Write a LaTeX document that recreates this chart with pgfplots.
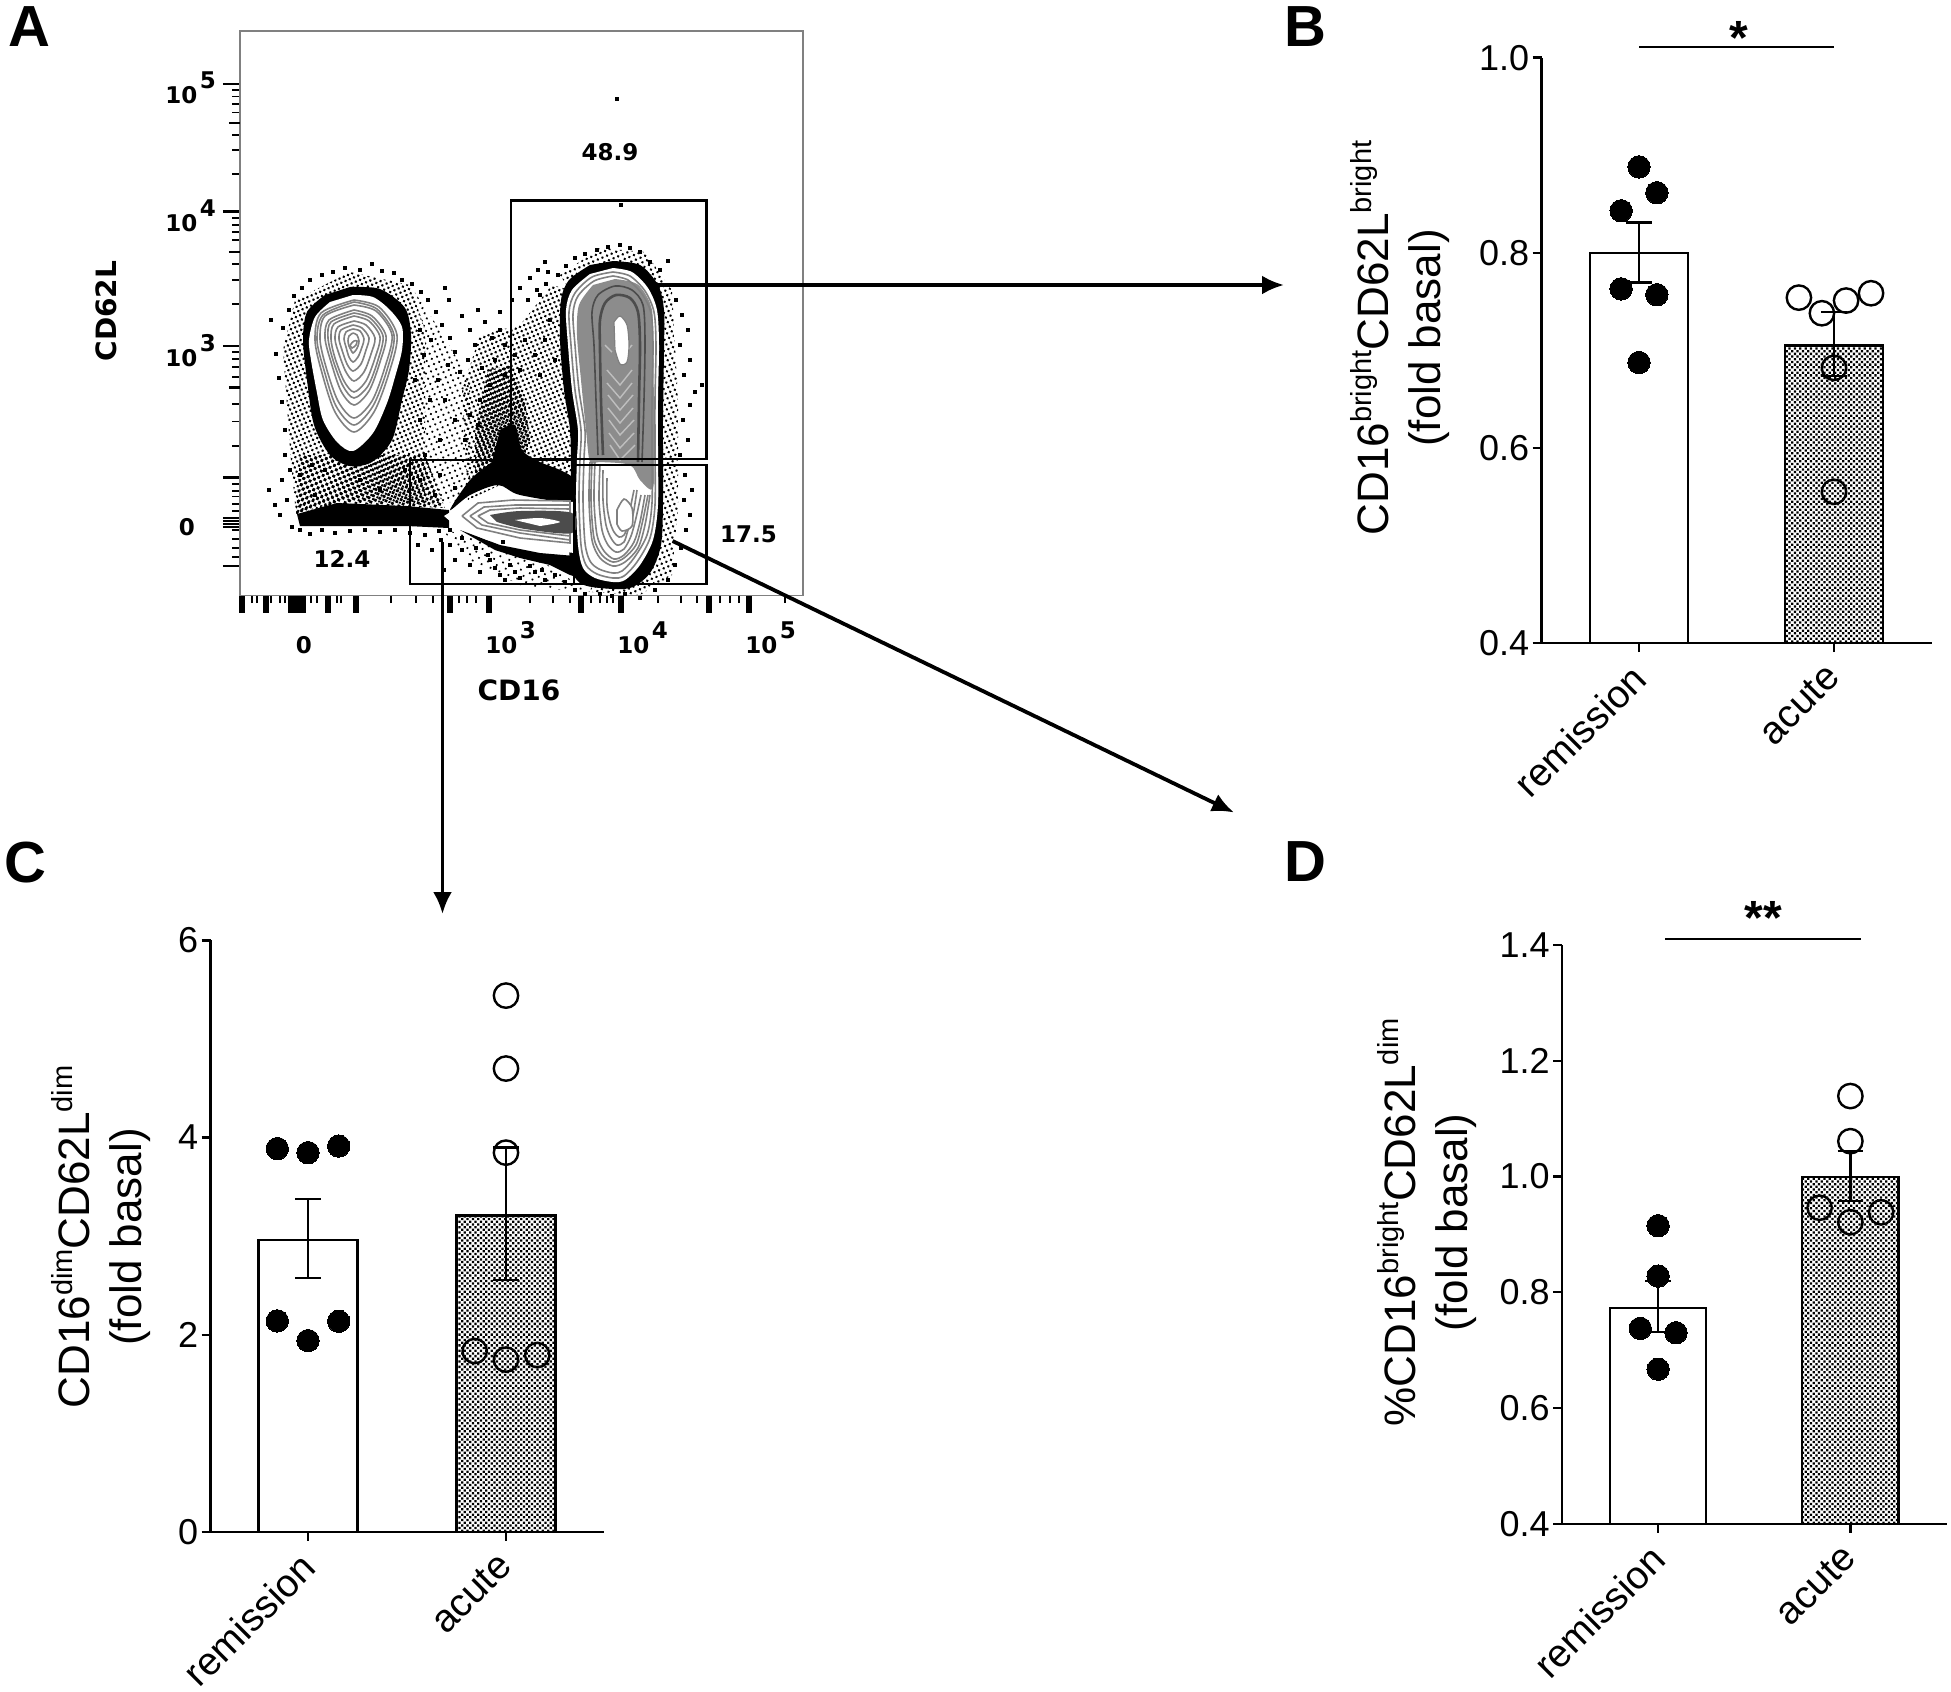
\documentclass[border=0pt]{standalone}
\usepackage{fontspec}
\usepackage{pgfplots}
\pgfplotsset{compat=1.18}
\usetikzlibrary{patterns.meta,arrows.meta}
\setmainfont{Liberation Sans}
\newfontfamily\djb{DejaVu Sans}
\definecolor{cont}{gray}{0.5}
\definecolor{contd}{gray}{0.3}
\definecolor{contf}{gray}{0.55}
\newcommand{\tl}{\fontsize{18}{20}\selectfont}
\newcommand{\txl}{\fontsize{19.5}{21}\selectfont}
\newcommand{\yl}{\fontsize{22}{26}\selectfont}
\newcommand{\sps}[1]{\raisebox{8.5pt}{\fontsize{14.5}{16}\selectfont #1}}
\newcommand{\fl}[2]{{\djb\bfseries\fontsize{11.5}{13}\selectfont #1\kern1.2pt\raisebox{7.5pt}{#2}}}
\newcommand{\ctr}[1]{\addplot[cont,line width=0.8pt,smooth,forget plot] coordinates {#1};}
\newcommand{\cdk}[1]{\addplot[contd,line width=0.8pt,smooth,forget plot] coordinates {#1};}
\newcommand{\clt}[1]{\addplot[white!75!black,line width=0.7pt,forget plot] coordinates {#1};}
\pgfplotsset{
  barpanel/.style={
    scale only axis, anchor=south west, axis x line*=bottom, axis y line*=left,
    xmin=-0.5, xmax=1.5, xtick={0,1}, xticklabels={remission,acute},
    tick align=outside,
    axis line style={line width=1.15pt},
    major tick length=4.5pt,
    tick style={black,line width=1.15pt},
    tick label style={font=\tl},
    xticklabel style={font=\txl,rotate=45,anchor=north east,inner sep=0pt,xshift=-6.8pt,yshift=0.3pt},
    yticklabel style={/pgf/number format/assume math mode=true,/pgf/number format/fixed,/pgf/number format/fixed zerofill,/pgf/number format/precision=1,inner sep=1.5pt},
    ylabel style={font=\yl,align=center,anchor=center,rotate=0},
  },
  whitebar/.style={ybar,bar shift=0pt,bar width=0.5,draw=black,fill=white,line width=1.15pt,forget plot},
  patbar/.style={ybar,bar shift=0pt,bar width=0.5,draw=black,line width=1.15pt,forget plot,pattern={Dots[radius=0.8pt,distance=1.9pt,angle=45]},pattern color=black},
  fdots/.style={only marks,mark=*,mark size=5.6pt,mark options={fill=black,draw=black,line width=0pt},forget plot},
  odots/.style={only marks,mark=o,mark size=6.1pt,mark options={draw=black,line width=1.2pt},forget plot},
  ebars/.style={draw=none,no markers,forget plot,error bars/.cd,y dir=both,y explicit,error bar style={black,line width=1.15pt},error mark options={black,rotate=90,mark size=6.4pt,line width=1.15pt}},
}
\begin{document}
\begin{tikzpicture}
\path[use as bounding box] (0pt,0pt) rectangle (975.5pt,-846pt);

% ---------- Panel A
\begin{axis}[
  scale only axis, at={(120pt,-297.75pt)}, anchor=south west, width=281.5pt, height=282.25pt,
  y dir=reverse, xmin=240, xmax=803, ymin=31, ymax=595.5, clip=false,
  axis line style={cont,line width=0.7pt},
  tick align=outside,
  xtick pos=lower, ytick pos=lower,
  xtick={242,266,291,295,299,303,328,356,450,489,581,621,709,749},
  minor xtick={252,257,271,280,285,311,317,337,341,391,416,433,459,467,476,530,553,570,591,600,607,613,658,681,697,720,730,739,785},
  ytick={84,211.4,346,477.5,518,521,524,527,566},
  minor ytick={90,96.4,103.6,112.5,134.6,150,174,218,225,232,240,264,280,304,352,359,367,377,403.6,421.4,445.7,484,491,496.4,503.6,510.7,530,539,548,557},
  extra y ticks={123,252,387.5},
  extra y tick labels={},
  extra tick style={major tick length=5.5pt},
  xticklabels={}, yticklabels={},
  major tick length=8.5pt, minor tick length=3.8pt,
  major x tick style={black,line width=2.6pt},
  minor x tick style={black,line width=0.9pt},
  major y tick style={black,line width=1.3pt},
  minor y tick style={black,line width=0.9pt},
]
% speckled clouds
\addplot[draw=none,pattern={Dots[radius=0.72pt,distance=2.3pt,angle=23]},pattern color=black] coordinates {(295,300)(350,272)(410,285)(425,330)(425,400)(425,505)(340,500)(296,515)(290,450)(283,350)} -- cycle;
\addplot[draw=none,pattern={Dots[radius=0.62pt,distance=2.8pt,angle=23]},pattern color=black] coordinates {(410,285)(440,330)(470,380)(470,500)(425,505)(425,330)} -- cycle;
\addplot[draw=none,pattern={Dots[radius=0.95pt,distance=2.4pt,angle=23]},pattern color=black] coordinates {(300,455)(425,455)(445,508)(340,503)(296,515)} -- cycle;
\addplot[draw=none,pattern={Dots[radius=0.72pt,distance=2.3pt,angle=23]},pattern color=black] coordinates {(480,335)(520,325)(552,285)(570,290)(572,480)(500,485)(468,500)(462,390)} -- cycle;
\addplot[draw=none,pattern={Dots[radius=0.95pt,distance=2.2pt,angle=23]},pattern color=black] coordinates {(488,370)(512,365)(525,400)(530,440)(520,470)(475,480)(475,430)} -- cycle;
\addplot[draw=none,pattern={Dots[radius=0.6pt,distance=3.4pt,angle=23]},pattern color=black] coordinates {(440,528)(480,540)(540,560)(590,592)(560,590)(520,585)(470,560)} -- cycle;
\addplot[draw=none,pattern={Dots[radius=0.7pt,distance=2.5pt,angle=23]},pattern color=black] coordinates {(600,248)(645,252)(672,290)(678,400)(678,510)(672,575)(640,595)(590,592)(640,400)(560,275)} -- cycle;
% individual events
\addplot[only marks,mark=square*,mark size=0.62pt,mark options={fill=black,draw=none},black] coordinates {
(617,99)(621,205)(269,490)(275,505)(271,320)(276,354)(279,378)(282,402)(285,430)(283,328)(289,310)(294,296)(302,288)(310,280)(322,275)(333,272)(345,268)(360,270)(372,264)(382,271)(394,273)(402,280)(412,284)(421,292)(428,300)(436,312)(442,325)(450,338)(455,352)(448,365)(460,372)(468,360)(475,345)(470,330)(485,322)(492,338)(500,312)(478,310)(462,316)(449,300)(445,288)(500,330)(512,300)(520,288)(530,278)(538,270)(545,262)(528,300)(540,295)(548,272)
(431,340)(424,355)(438,380)(430,400)(420,420)(445,400)(455,420)(465,440)(440,440)(425,455)(415,380)(420,330)(285,455)(290,470)(282,480)(287,500)(280,515)(292,527)(300,530)(310,534)(322,530)(335,533)(350,531)(365,530)(380,532)(395,530)(410,533)(425,535)(418,545)(432,550)(441,540)(450,545)(462,550)(455,560)(470,565)(444,570)(480,572)(490,560)(500,575)(510,565)(520,578)(535,572)(545,580)(555,575)(565,582)(575,590)(585,594)(600,594)(612,596)(625,594)(640,598)(655,590)(668,580)(675,565)(681,548)(686,530)(690,515)(684,500)(692,490)(685,475)(680,455)(688,440)(683,420)(690,405)(695,392)(702,385)(684,375)(690,360)(680,345)(688,330)(682,315)(676,300)(671,285)(660,270)(650,262)(640,252)(630,248)(620,245)(608,247)(597,250)(585,254)(575,258)(566,266)(558,275)(546,284)(537,290)(668,261)
(550,320)(545,340)(535,355)(525,340)(515,355)(505,345)(495,360)(482,368)(490,385)(505,375)(520,370)(540,375)(555,360)(345,505)(360,480)(420,480)(440,475)(455,488)(435,495)(380,490)(405,470)(300,475)(315,495)(325,470)(312,465)(480,400)(478,425)(470,415)
(503,542)(512,552)(525,557)(476,548)(488,555)(495,568)(505,580)(515,572)(530,566)(542,570)(552,563)(562,568)(462,538)(450,530)(439,531)
};
% dense black
\addplot[fill=black,draw=none,smooth] coordinates {(350,287)(380,289)(405,308)(411,335)(409,370)(402,400)(392,440)(372,462)(350,466)(330,455)(314,425)(307,380)(303,340)(307,312)(325,295)} -- cycle;
\addplot[fill=black,draw=none] coordinates {(297,514)(337,503)(407,506)(449,510)(449,528)(407,526)(337,526)(300,526)} -- cycle;
\addplot[fill=black,draw=none,smooth] coordinates {(500,430)(515,425)(522,450)(540,462)(560,470)(575,480)(575,502)(520,495)(498,485)(470,495)(450,510)(470,480)(492,462)} -- cycle;
\addplot[fill=black,draw=none,smooth] coordinates {(613,261)(640,265)(658,285)(664,310)(664,350)(663,420)(663,500)(661,545)(650,573)(630,588)(600,588)(580,583)(570,565)(570,520)(571,470)(570,430)(564,390)(560,340)(561,300)(569,280)(590,265)} -- cycle;
\addplot[fill=black,draw=none] coordinates {(460,530)(500,545)(540,553)(575,556)(580,578)(570,575)(550,565)(520,558)(495,550)} -- cycle;
% left population
\addplot[fill=white,draw=none,smooth] coordinates {(353,295)(373,297)(390,310)(402,327)(402,350)(395,377)(387,403)(373,433)(353,451)(337,442)(323,420)(317,393)(311,360)(309,340)(315,317)(330,302)} -- cycle;
\ctr{(354,300)(379,307)(397,335)(389,373)(374,412)(354,432)(335,412)(322,373)(315,340)(321,313)(354,300)}
\ctr{(354,302)(377,309)(394,335)(387,370)(373,406)(354,425)(336,406)(324,370)(317,340)(323,315)(354,302)}
\ctr{(354,305)(376,311)(392,335)(385,367)(372,401)(354,418)(338,401)(326,367)(320,339)(325,316)(354,305)}
\ctr{(354,310)(372,316)(386,336)(380,362)(369,391)(354,405)(341,391)(331,362)(325,338)(329,320)(354,310)}
\ctr{(354,313)(370,318)(383,336)(378,360)(368,386)(354,398)(343,386)(333,360)(328,338)(331,322)(354,313)}
\ctr{(354,316)(369,321)(380,337)(375,358)(366,381)(354,392)(344,381)(335,358)(331,339)(334,324)(354,316)}
\ctr{(354,321)(366,325)(375,338)(371,354)(364,372)(354,381)(346,372)(339,354)(335,339)(338,327)(354,321)}
\ctr{(353,325)(362,328)(369,338)(366,350)(361,364)(353,371)(347,364)(342,350)(339,339)(341,330)(353,325)}
\ctr{(353,329)(360,331)(364,339)(362,347)(358,357)(353,362)(349,357)(346,347)(344,339)(346,332)(353,329)}
\ctr{(353,333)(357,335)(359,341)(358,346)(356,350)(353,353)(351,350)(349,346)(348,341)(349,336)(353,333)}
\ctr{(350,345)(354,341)(357,341)(356,345)(352,348)(350,345)}
% right population
\addplot[fill=white,draw=none,smooth] coordinates {(613,268)(632,272)(648,288)(657,310)(659,345)(658,400)(658,450)(658,505)(653,540)(640,565)(625,580)(613,582)(595,578)(583,568)(578,545)(576,500)(577,459)(578,430)(572,390)(568,345)(566,310)(572,290)(590,274)} -- cycle;
\addplot[fill=contf,draw=none,smooth] coordinates {(615,279)(637,284)(650,303)(653,327)(654,440)(653,488)(640,480)(630,465)(600,462)(590,462)(586,430)(581,380)(577,335)(579,305)(593,285)} -- cycle;
\ctr{(613,272)(630,276)(645,291)(654,312)(656,345)(655,400)(655,450)(655,505)(650,538)(637,562)(624,576)(613,578)(597,574)(586,565)(581,545)(579,500)(580,459)(581,430)(575,390)(571,345)(569,312)(575,293)(592,277)(613,272)}
\ctr{(613,276)(628,280)(642,294)(651,313)(653,345)(652,400)(652,450)(652,503)(647,535)(634,558)(622,571)(613,573)(599,569)(590,561)(585,543)(583,500)(584,459)(585,430)(579,390)(575,345)(573,314)(578,296)(594,281)(613,276)}
\ctr{(590,462)(589,500)(592,540)(600,558)(613,566)(625,562)(638,548)(645,525)(650,495)}
\ctr{(592,462)(591,500)(594,538)(602,555)(613,562)(624,558)(636,545)(642,524)(648,495)}
\ctr{(595,462)(594,500)(597,535)(604,551)(614,559)(624,555)(634,542)(640,522)(645,495)}
\ctr{(600,465)(599,500)(602,530)(608,545)(616,552)(624,549)(631,536)(636,518)(641,495)}
\ctr{(603,470)(603,500)(606,525)(611,538)(617,545)(624,542)(628,530)(633,515)(637,490)}
\ctr{(607,478)(607,505)(610,522)(614,532)(619,537)(624,535)(628,525)(630,510)(634,490)}
\cdk{(598,455)(596,400)(594,345)(592,312)(598,295)(615,286)(632,290)(643,305)(645,340)(644,400)(642,462)}
\addplot[contd,line width=1.3pt,smooth] coordinates {(603,455)(601,400)(600,350)(600,320)(605,303)(616,295)(630,298)(638,312)(640,345)(639,400)(638,462)};
\clt{(605,345)(612,352)}\clt{(632,345)(626,352)}
\clt{(607,370)(620,385)(632,370)}
\clt{(607,383)(620,398)(632,383)}
\clt{(608,395)(620,410)(633,395)}
\clt{(608,408)(620,423)(633,408)}
\clt{(609,420)(620,435)(634,420)}
\clt{(609,433)(620,448)(634,433)}
\clt{(610,445)(620,460)(635,445)}
\addplot[fill=white,draw=cont,line width=0.6pt,smooth] coordinates {(614,322)(620,316)(627,325)(629,345)(627,362)(620,364)(615,350)} -- cycle;
\addplot[fill=white,draw=cont,line width=0.8pt,smooth] coordinates {(617,510)(624,499)(632,508)(632,526)(622,531)(617,524)} -- cycle;
% horizontal population
\addplot[fill=white,draw=none] coordinates {(444,516)(470,500)(498,487)(520,497)(545,500)(574,502)(574,553)(530,547)(487,540)(457,527)} -- cycle;
\addplot[cont,line width=0.8pt] coordinates {(462,516)(478,503)(513,500)(570,501)(570,543)(520,538)(477,528)(462,516)};
\addplot[cont,line width=0.8pt] coordinates {(470,516)(484,507)(515,505)(570,505)(570,540)(520,533)(482,525)(470,516)};
\addplot[cont,line width=0.8pt] coordinates {(478,516)(490,510)(520,508)(570,509)(570,536)(520,530)(488,523)(478,516)};
\addplot[fill=contd,draw=none,smooth] coordinates {(490,515)(520,511)(572,513)(572,533)(525,529)(497,522)} -- cycle;
\addplot[fill=white,draw=none,smooth] coordinates {(515,520)(540,518)(560,522)(540,526)} -- cycle;
% gates
\addplot[black,line width=1.1pt] coordinates {(511,458)(511,200.5)(706.5,200.5)(706.5,459)(511,459)};
\addplot[black,line width=1.1pt] coordinates {(574,460)(410,460)(410,584)(574,584)(574,460)};
\addplot[black,line width=1.1pt] coordinates {(574,465)(706.5,465)(706.5,584)(574,584)};
% gate values and axis text
\node[font=\djb\bfseries\fontsize{11.5}{13}\selectfont] at (axis cs:610,152) {48.9};
\node[font=\djb\bfseries\fontsize{11.5}{13}\selectfont] at (axis cs:748.5,534) {17.5};
\node[font=\djb\bfseries\fontsize{11.5}{13}\selectfont] at (axis cs:342,559) {12.4};
\node[anchor=base west,inner sep=0pt] at (axis cs:165,103) {\fl{10}{5}};
\node[anchor=base west,inner sep=0pt] at (axis cs:165,231) {\fl{10}{4}};
\node[anchor=base west,inner sep=0pt] at (axis cs:165,366) {\fl{10}{3}};
\node[anchor=base,inner sep=0pt] at (axis cs:188,535) {\fl{0}{}};
\node[anchor=base,inner sep=0pt] at (axis cs:305,653) {\fl{0}{}};
\node[anchor=base west,inner sep=0pt] at (axis cs:485,653) {\fl{10}{3}};
\node[anchor=base west,inner sep=0pt] at (axis cs:617,653) {\fl{10}{4}};
\node[anchor=base west,inner sep=0pt] at (axis cs:745,653) {\fl{10}{5}};
\node[font=\djb\bfseries\fontsize{14}{16}\selectfont] at (axis cs:519,690) {CD16};
\node[font=\djb\bfseries\fontsize{14}{16}\selectfont,rotate=90] at (axis cs:106,311) {CD62L};
\end{axis}

% ---------- Panel B
\begin{axis}[barpanel, at={(770.75pt,-321.5pt)}, width=195pt, height=292.7pt,
  ymin=0.4, ymax=1.0, ytick={0.4,0.6,0.8,1.0},
  ylabel={CD16\sps{bright}CD62L\sps{bright}\\(fold basal)},
  ylabel style={at={(axis description cs:-0.363,0.521)}}]
\addplot[whitebar] coordinates {(0,0.8)};
\addplot[patbar] coordinates {(1,0.705)};
\addplot[fdots] coordinates {(0,0.888)(0.0915,0.8615)(-0.0915,0.843)(-0.0915,0.763)(0.0915,0.757)(0,0.6875)};
\addplot[odots] coordinates {(0.82,0.754)(0.938,0.738)(1.062,0.751)(1.19,0.7585)(1,0.682)(1,0.555)};
\addplot[ebars] coordinates {(0,0.8) += (0,0.031) -= (0,0.0305) (1,0.705) += (0,0.034) -= (0,0.031)};
\end{axis}

% ---------- Panel C
\begin{axis}[barpanel, at={(105.3pt,-765.9pt)}, width=196.7pt, height=295.7pt,
  xmin=-0.492, xmax=1.495,
  ymin=0, ymax=6, ytick={0,2,4,6},
  yticklabel style={/pgf/number format/precision=0,/pgf/number format/fixed zerofill=false},
  ylabel={CD16\sps{dim}CD62L\sps{dim}\\(fold basal)},
  ylabel style={at={(axis description cs:-0.2786,0.4985)}}]
\addplot[whitebar] coordinates {(0,2.96)};
\addplot[patbar] coordinates {(1,3.21)};
\addplot[fdots] coordinates {(-0.155,3.888)(0,3.847)(0.155,3.914)(-0.155,2.14)(0,1.94)(0.155,2.136)};
\addplot[odots] coordinates {(1,5.44)(1,4.70)(1,3.847)(0.842,1.834)(1,1.747)(1.158,1.793)};
\addplot[ebars] coordinates {(0,2.96) += (0,0.42) -= (0,0.383) (1,3.21) += (0,0.69) -= (0,0.654)};
\end{axis}

% ---------- Panel D
\begin{axis}[barpanel, at={(781pt,-761.85pt)}, width=192.25pt, height=289.35pt,
  ymin=0.4, ymax=1.4, ytick={0.4,0.6,0.8,1.0,1.2,1.4},
  ylabel={\%CD16\sps{bright}CD62L\sps{dim}\\(fold basal)},
  ylabel style={at={(axis description cs:-0.35,0.521)}}]
\addplot[whitebar] coordinates {(0,0.7724)};
\addplot[patbar] coordinates {(1,0.999)};
\addplot[fdots] coordinates {(0,0.915)(0,0.828)(-0.093,0.7375)(0.093,0.730)(0,0.667)};
\addplot[odots] coordinates {(1,1.139)(1,1.061)(0.84,0.946)(1,0.921)(1.16,0.938)};
\addplot[ebars] coordinates {(0,0.7724) += (0,0.0466) -= (0,0.0414) (1,0.999) += (0,0.045) -= (0,0.041)};
\end{axis}

% ---------- overlay in image pixels
\begin{scope}[x=0.5pt,y=-0.5pt]
\foreach \t/\x/\y in {A/29/27,B/1305/27,C/25/863,D/1305/862}
  \node[font=\bfseries\fontsize{29}{30}\selectfont] at (\x,\y) {\t};
\draw[line width=1pt] (1639,47) -- (1834,47);
\node[font=\bfseries\fontsize{24}{26}\selectfont] at (1738.6,38) {*};
\draw[line width=1pt] (1665,938.5) -- (1861,938.5);
\node[font=\bfseries\fontsize{24}{26}\selectfont] at (1763,918) {**};
\draw[line width=1.9pt,-{Latex[length=11pt,width=9.5pt]}] (656,285) -- (1284,285);
\draw[line width=1.9pt,-{Latex[length=11pt,width=9.5pt]}] (442.5,542) -- (442.5,914);
\draw[line width=1.9pt,-{Latex[length=11pt,width=9.5pt]}] (672.6,541) -- (1234,812.5);
\end{scope}
\end{tikzpicture}
\end{document}
